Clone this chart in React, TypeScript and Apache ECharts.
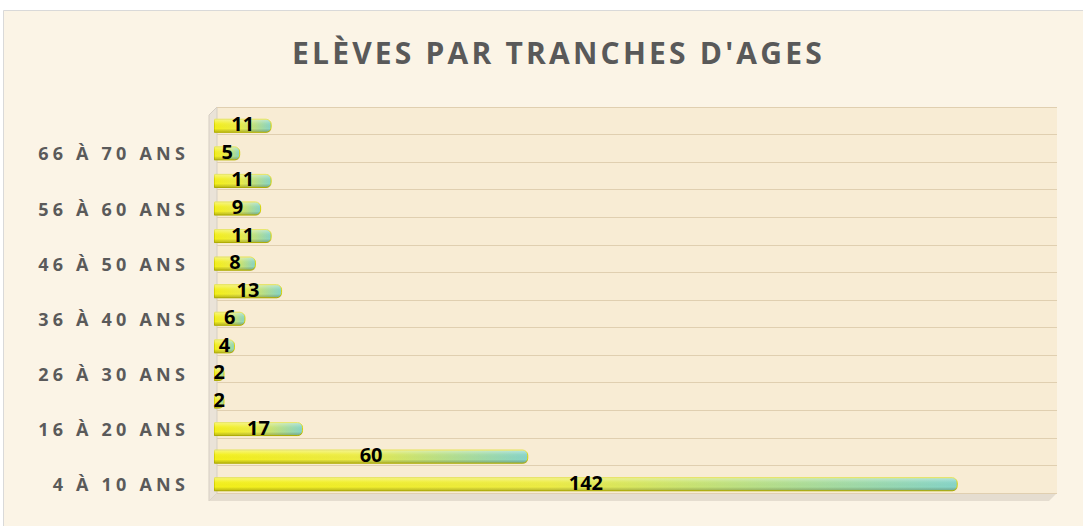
import React, { useEffect, useRef } from "react";
import * as echarts from "echarts";

const categories = [
  "4 À 10 ANS", "11 À 15 ANS", "16 À 20 ANS", "21 À 25 ANS", "26 À 30 ANS",
  "31 À 35 ANS", "36 À 40 ANS", "41 À 45 ANS", "46 À 50 ANS", "51 À 55 ANS",
  "56 À 60 ANS", "61 À 65 ANS", "66 À 70 ANS", "71 À 75 ANS",
];
const values = [142, 60, 17, 2, 2, 4, 6, 13, 8, 11, 9, 11, 5, 11];
const titleText = "ELÈVES PAR TRANCHES D'AGES";
const axisMax = 160;

export default function App() {
  const ref = useRef<HTMLDivElement>(null);
  useEffect(() => {
    if (!ref.current) return;
    const chart = echarts.init(ref.current, null, { renderer: "svg" });
    const font = "'Open Sans', 'DejaVu Sans', sans-serif";
    chart.setOption({
      animation: false,
      backgroundColor: "#ffffff",
      title: {
        text: titleText,
        left: 287,
        top: 32,
        textStyle: { fontFamily: font, fontSize: 30, fontWeight: "bold", color: "#595959" },
      },
      graphic: [
        { type: "rect", z: -10, shape: { x: 3.5, y: 10.5, width: 1080, height: 516 }, style: { fill: "#FBF4E6", stroke: "#D9D9D9", lineWidth: 1 } },
        { type: "rect", z: -9, shape: { x: 217, y: 107, width: 840, height: 386 }, style: { fill: "#F8ECD4" } },
        { type: "polygon", z: -9, shape: { points: [[209, 115], [217, 107], [217, 493], [209, 501]] }, style: { fill: "#EAE3D8", stroke: "#D5CEC3", lineWidth: 1 } },
        { type: "polygon", z: -9, shape: { points: [[209, 501], [217, 493], [1057, 493], [1049, 501]] }, style: { fill: "#E5DDD0" } },
      ],
      grid: [
        { left: 217, right: 26, top: 107, bottom: 33 },
        { left: 214, right: 31, top: 112, bottom: 28 },
      ],
      xAxis: [
        { type: "value", gridIndex: 0, min: 0, max: axisMax, show: false, splitLine: { show: false } },
        { type: "value", gridIndex: 1, min: 0, max: axisMax, show: false, splitLine: { show: false } },
      ],
      yAxis: [
        {
          type: "category", gridIndex: 0, data: categories,
          axisLine: { show: false }, axisTick: { show: false }, axisLabel: { show: false },
          splitLine: { show: true, interval: 0, lineStyle: { color: "#E0CFB0", width: 1 } },
        },
        {
          type: "category", gridIndex: 1, data: categories,
          axisLine: { show: false }, axisTick: { show: false }, splitLine: { show: false },
          axisLabel: {
            interval: 1, margin: 25, padding: [9, 0, 0, 0],
            fontFamily: font, fontSize: 18, fontWeight: "bold", color: "#5A5A5A",
          },
        },
      ],
      series: [
        {
          type: "bar", xAxisIndex: 1, yAxisIndex: 1, data: values, barWidth: 14,
          itemStyle: {
            color: new echarts.graphic.LinearGradient(0, 0, 1, 0, [
              { offset: 0, color: "#F4F01A" },
              { offset: 0.45, color: "#EDEC45" },
              { offset: 1, color: "#86D4C8" },
            ]),
            borderColor: "#D8D400", borderWidth: 1, borderRadius: [0, 5, 5, 0],
          },
        },
        {
          type: "bar", xAxisIndex: 1, yAxisIndex: 1, data: values, barWidth: 14, barGap: "-100%",
          itemStyle: {
            color: new echarts.graphic.LinearGradient(0, 0, 0, 1, [
              { offset: 0, color: "rgba(255,255,255,0.45)" },
              { offset: 0.35, color: "rgba(255,255,255,0.05)" },
              { offset: 0.7, color: "rgba(0,0,0,0)" },
              { offset: 1, color: "rgba(90,90,0,0.35)" },
            ]),
            borderRadius: [0, 5, 5, 0],
          },
          label: {
            show: true, position: "inside", offset: [0, -2],
            fontFamily: font, fontSize: 20, lineHeight: 20, fontWeight: "bold", color: "#000000",
          },
        },
      ],
    });
    return () => chart.dispose();
  }, []);
  return (
    <>
      <style>{`#chartbox text[fill="#595959"] { letter-spacing: 3.2px; } #chartbox text[fill="#5A5A5A"] { letter-spacing: 4.2px; }`}</style>
      <div
        id="chartbox"
        ref={ref}
        style={{ position: "absolute", left: 0, top: 0, width: 1083, height: 526 }}
      />
    </>
  );
}
